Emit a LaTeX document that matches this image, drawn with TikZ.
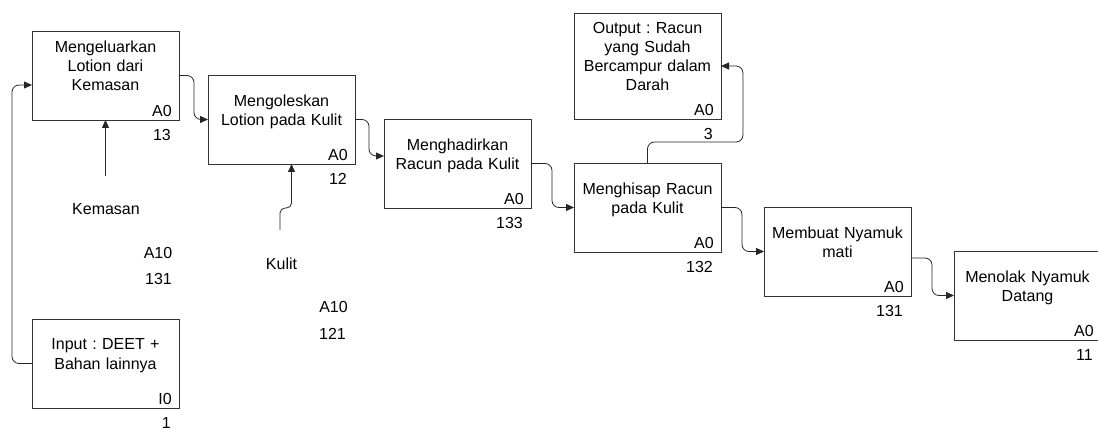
\documentclass[tikz,border=0pt]{standalone}
\usepackage{fontspec}
\setmainfont{Liberation Sans}
\usetikzlibrary{arrows.meta,positioning}
\frenchspacing
\tikzset{
  basebox/.style={rectangle,draw=black!80,line width=0.8pt,align=center,
                  outer sep=0pt,font=\fontsize{16}{19.2}\selectfont},
  procbox/.style={basebox,minimum width=147pt,minimum height=89pt,
                  text width=140pt,inner xsep=3.5pt,inner ysep=9pt},
  taglbl/.style={anchor=south east,inner xsep=7pt,inner ysep=3pt,
                 font=\fontsize{16}{19.2}\selectfont},
  numlbl/.style={anchor=north east,inner xsep=8pt,inner ysep=9.5pt,
                 font=\fontsize{16}{19.2}\selectfont},
  txtlbl/.style={font=\fontsize{16}{19.2}\selectfont},
  arr/.style={-{Triangle[length=8pt,width=7pt]},line width=0.8pt,
              color=black!85,rounded corners=7pt}
}
\begin{document}
\begin{tikzpicture}[node distance=45pt and 29pt]
  \useasboundingbox (0,0) rectangle (1098pt,-430pt);

  % process chain
  \node[procbox] (box1) at (105.5pt,-75.5pt)
      {Mengeluarkan\\Lotion dari\\Kemasan\\\mbox{}};
  \node[procbox, below right=-45pt and 29pt of box1] (box2)
      {Mengoleskan\\Lotion pada Kulit\\\mbox{}};
  \node[procbox, below right=-45pt and 29pt of box2] (box3)
      {Menghadirkan\\Racun pada Kulit\\\mbox{}};
  \node[procbox, below right=-45pt and 43pt of box3] (box4)
      {Menghisap Racun\\pada Kulit\\\mbox{}};
  \node[procbox, below right=-45pt and 43pt of box4] (box5)
      {Membuat Nyamuk\\mati\\\mbox{}};
  \node[procbox, below right=-45pt and 43pt of box5] (box6)
      {Menolak Nyamuk\\Datang\\\mbox{}};

  % input / output
  \node[procbox, above=44pt of box4] (outbox)
      {Output : Racun\\yang Sudah\\Bercampur dalam\\Darah\\\mbox{}};
  \node[procbox, below=199pt of box1] (inbox)
      {Input : DEET +\\Bahan lainnya\\\mbox{}};

  % tags and numbers
  \node[taglbl] (box1tag) at (box1.south east) {A0};
  \node[numlbl] (box1num) at (box1.south east) {13};
  \node[taglbl] (box2tag) at (box2.south east) {A0};
  \node[numlbl] (box2num) at (box2.south east) {12};
  \node[taglbl] (box3tag) at (box3.south east) {A0};
  \node[numlbl] (box3num) at (box3.south east) {133};
  \node[taglbl] (box4tag) at (box4.south east) {A0};
  \node[numlbl] (box4num) at (box4.south east) {132};
  \node[taglbl] (box5tag) at (box5.south east) {A0};
  \node[numlbl] (box5num) at (box5.south east) {131};
  \node[taglbl] (box6tag) at (box6.south east) {A0};
  \node[numlbl] (box6num) at (box6.south east) {11};
  \node[taglbl] (outtag) at (outbox.south east) {A0};
  \node[numlbl] (outnum) at (outbox.south east) {3};
  \node[taglbl] (intag) at (inbox.south east) {I0};
  \node[numlbl] (innum) at (inbox.south east) {1};

  % loose arrow labels
  \node[txtlbl] (kemasan) at (106pt,-209pt) {Kemasan};
  \node[txtlbl] (kemasantag) at (158pt,-253pt) {A10};
  \node[txtlbl] (kemasannum) at (158.5pt,-279pt) {131};
  \node[txtlbl] (kulit) at (281.5pt,-264pt) {Kulit};
  \node[txtlbl] (kulittag) at (333.5pt,-307pt) {A10};
  \node[txtlbl] (kulitnum) at (332.5pt,-334pt) {121};
  \coordinate (kemasanend) at (105.5pt,-176pt);
  \coordinate (kulitend) at (280pt,-230pt);

  \draw[arr] (box1.east) -- ++(15pt,0) |- (box2.west);
  \draw[arr] (box2.east) -- ++(14pt,0) |- ([yshift=7.5pt]box3.west);
  \draw[arr] (box3.east) -- ++(21pt,0) |- (box4.west);
  \draw[arr] (box4.east) -- ++(21pt,0) |- (box5.west);
  \draw[arr] ([yshift=-6.5pt]box5.east) -- ++(21pt,0) |- (box6.west);
  \draw[arr] (inbox.west) -- ++(-20pt,0) |- ([yshift=-9.5pt]box1.west);
  \draw[arr] (kemasanend) -- (box1.south);
  \draw[arr,rounded corners=5pt] (kulitend) -- ++(0,22pt)
      -| ([xshift=10pt]box2.south);
  \draw[arr] (box4.north) -- ++(0,21pt) -- ++(95.5pt,0) |- (outbox.east);

\end{tikzpicture}
\end{document}
